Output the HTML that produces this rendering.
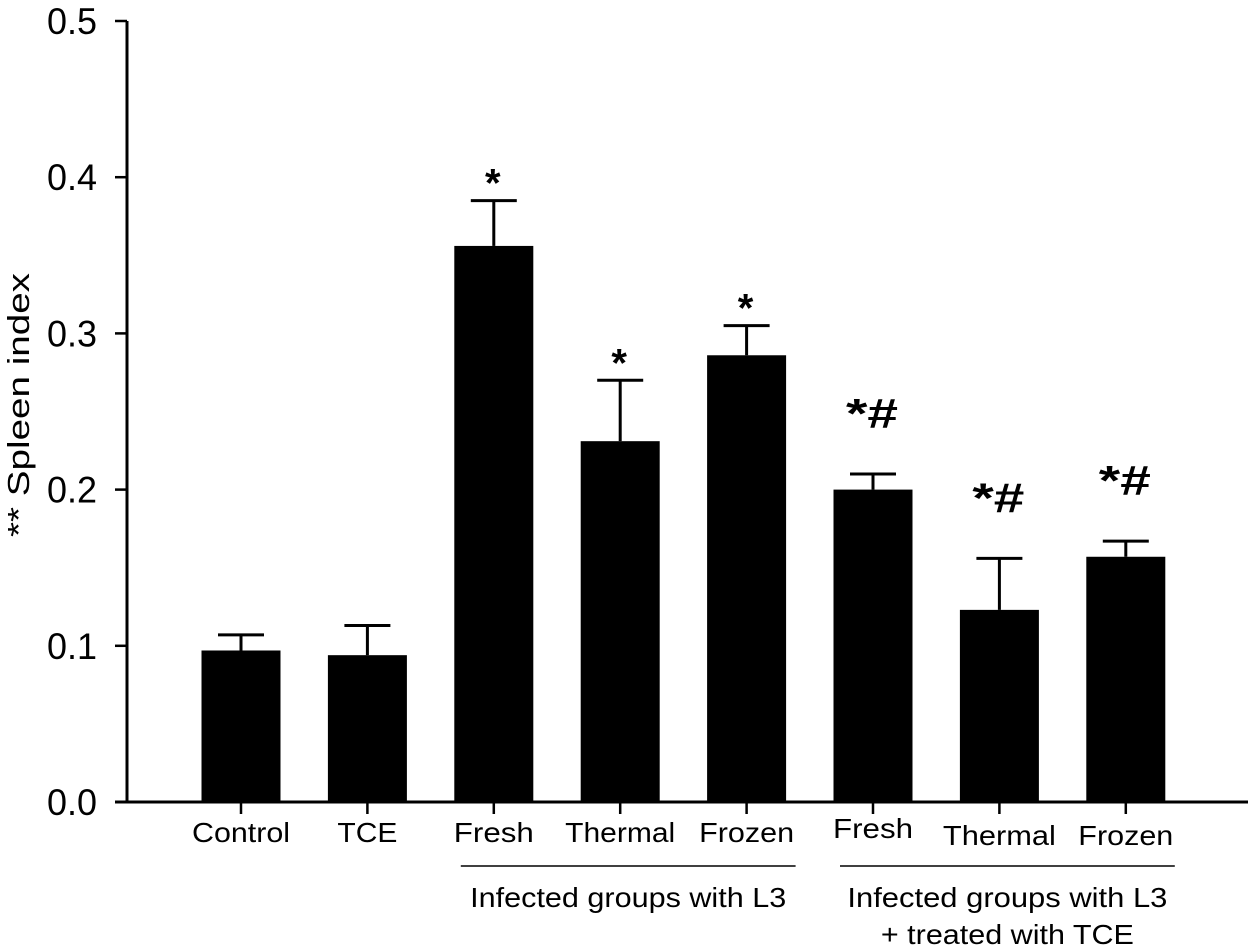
<!DOCTYPE html>
<html><head><meta charset="utf-8"><style>
html,body{margin:0;padding:0;background:#fff;}
svg{display:block;font-family:"Liberation Sans",Arial,sans-serif;}
</style></head><body>
<svg id="chart" width="1248" height="952" viewBox="0 0 1248 952" xmlns="http://www.w3.org/2000/svg">
<g id="plot"></g>
</svg>
<script>
const categories = ["Control","TCE","Fresh","Thermal","Frozen","Fresh","Thermal","Frozen"];
const values = [0.097,0.094,0.356,0.231,0.286,0.200,0.123,0.157];
const errors = [0.010,0.019,0.029,0.039,0.019,0.010,0.033,0.010];
const annotations = ["","","*","*","*","*#","*#","*#"];
const yTicks = [0,0.1,0.2,0.3,0.4,0.5];
const yTickLabels = ["0.0","0.1","0.2","0.3","0.4","0.5"];
const groups = [
  {from:2,to:4,lines:["Infected groups with L3"]},
  {from:5,to:7,lines:["Infected groups with L3","+ treated with TCE"]}
];

const NS="http://www.w3.org/2000/svg";
const g=document.getElementById('plot');
const y0=802, yTop=21, xAxis0=127, xAxis1=1248;
function y(v){return y0-(v/0.5)*(y0-yTop);}
function x(i){return 241+i*126.4;}
const barW=79, capW=46;
function mk(tag,attrs,parent){const e=document.createElementNS(NS,tag);for(const k in attrs)e.setAttribute(k,attrs[k]);(parent||g).appendChild(e);return e;}

let ya=mk('line',{x1:xAxis0,y1:yTop,x2:xAxis0,y2:y0+1.5,stroke:'#000','stroke-width':3});


let xa=mk('line',{x1:xAxis0-12,y1:y0,x2:xAxis1,y2:y0,stroke:'#000','stroke-width':3});



yTicks.forEach((t,i)=>{
  const tk=mk('line',{x1:xAxis0-12,y1:y(t),x2:xAxis0,y2:y(t),stroke:'#000','stroke-width':2.5});
  
  
  const tl=mk('text',{x:97,y:y(t)+13,'font-size':37,'text-anchor':'end',fill:'#000',textLength:50,lengthAdjust:'spacingAndGlyphs'});
  tl.textContent=yTickLabels[i];
  
  
});

const yt=mk('text',{x:0,y:0,'font-size':31,'text-anchor':'middle',fill:'#000',transform:'translate(29,405) rotate(-90)',textLength:264,lengthAdjust:'spacingAndGlyphs'});
yt.textContent='** Spleen index';



const labelDy=[0,0,0,0,0,-4,3,3];
const labelW=[98,60,80,110,95,80,113,95];
categories.forEach((c,i)=>{
  const cx=x(i);
  const b=mk('rect',{x:cx-barW/2,y:y(values[i]),width:barW,height:y0-y(values[i]),fill:'#000'});
  
  
  const eTop=y(values[i]+errors[i]);
  const el=mk('line',{x1:cx,y1:y(values[i]),x2:cx,y2:eTop,stroke:'#000','stroke-width':3});
  
  
  const cap=mk('line',{x1:cx-capW/2,y1:eTop,x2:cx+capW/2,y2:eTop,stroke:'#000','stroke-width':3});
  
  
  const tk=mk('line',{x1:cx,y1:y0,x2:cx,y2:y0+12,stroke:'#000','stroke-width':2.5});
  
  
  const lb=mk('text',{x:cx,y:842+labelDy[i],'font-size':28,'text-anchor':'middle',fill:'#000',textLength:labelW[i],lengthAdjust:'spacingAndGlyphs'});
  lb.textContent=c;
  
  
  if(annotations[i]){
    const star=annotations[i]==='*';
    const an=mk('text',{x:cx-1,y:star?eTop-4:eTop-46,'font-size':star?40:42,'text-anchor':'middle',fill:'#000','font-weight':'bold'});
    if(!star){an.setAttribute('textLength',52);an.setAttribute('lengthAdjust','spacingAndGlyphs');}
    an.textContent=annotations[i];
    
    
  }
});

const groupW=[[316],[320,253]];
groups.forEach((gr,gi)=>{
  const x1=x(gr.from)-33, x2=x(gr.to)+49;
  const ln=mk('line',{x1:x1,y1:866,x2:x2,y2:866,stroke:'#000','stroke-width':1.5});
  
  
  gr.lines.forEach((t,li)=>{
    const tx=mk('text',{x:(x1+x2)/2,y:907+li*37,'font-size':28,'text-anchor':'middle',fill:'#000',textLength:groupW[gi][li],lengthAdjust:'spacingAndGlyphs'});
    tx.textContent=t;
    
    
  });
});
</script>
</body></html>
